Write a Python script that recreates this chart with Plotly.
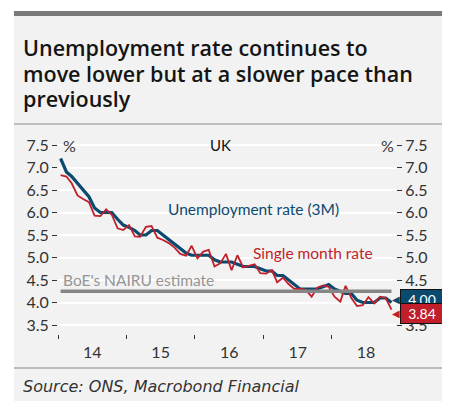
import plotly.graph_objects as go

# ---- data ----
months = [f"{y}-{m:02d}-15" for y in range(2014, 2019) for m in range(1, 13)][:59]

rate_3m = [7.2, 6.9, 6.8, 6.65, 6.5, 6.35, 6.1, 6.0, 6.0, 6.0, 5.85, 5.72, 5.67, 5.6, 5.5,
           5.5, 5.6, 5.6, 5.5, 5.4, 5.3, 5.2, 5.1, 5.05, 5.05, 5.05, 5.05, 4.95, 4.9, 4.9,
           4.9, 4.85, 4.8, 4.8, 4.8, 4.75, 4.7, 4.7, 4.6, 4.6, 4.5, 4.4, 4.3, 4.3, 4.3,
           4.3, 4.35, 4.4, 4.3, 4.25, 4.2, 4.2, 4.05, 4.0, 4.0, 4.0, 4.1, 4.1, 4.0]

rate_single = [6.83, 6.8, 6.65, 6.38, 6.3, 6.23, 5.93, 5.92, 6.07, 5.95, 5.65, 5.61, 5.72, 5.47,
               5.46, 5.68, 5.7, 5.44, 5.39, 5.32, 5.22, 5.08, 5.04, 5.26, 4.98, 5.13, 5.17, 4.8,
               4.87, 5.08, 4.72, 5.05, 4.78, 4.82, 4.85, 4.65, 4.64, 4.72, 4.45, 4.55, 4.41, 4.3,
               4.31, 4.28, 4.13, 4.33, 4.38, 4.35, 4.13, 4.02, 4.37, 4.1, 3.92, 3.94, 4.12, 3.98,
               4.13, 4.1, 3.84]

nairu = [4.25] * len(months)

y_ticks = [3.5, 4.0, 4.5, 5.0, 5.5, 6.0, 6.5, 7.0, 7.5]

title_lines = ["Unemployment rate continues to",
               "move lower but at a slower pace than",
               "previously"]

BLUE = "#0b4a6f"
RED = "#c01f2b"
GRAY = "#868686"
TXT = "#333333"
FONT = "Lato"

W, H = 450, 401
OFF = 8  # page body margin
def px(x):
    return (x - OFF) / W
def py(y):
    return 1 - (y - OFF) / H

fig = go.Figure()
fig.add_trace(go.Scatter(x=months, y=rate_3m, mode="lines",
                         line=dict(color=BLUE, width=3.2), hoverinfo="skip"))
fig.add_trace(go.Scatter(x=months, y=rate_single, mode="lines",
                         line=dict(color=RED, width=1.8), hoverinfo="skip"))
fig.add_trace(go.Scatter(x=months, y=nairu, mode="lines", yaxis="y2",
                         line=dict(color=GRAY, width=3.5), hoverinfo="skip"))

yax = dict(range=[3.3, 7.7], domain=[py(334), py(136)], tickvals=y_ticks,
           tickformat=".1f", ticks="outside", ticklen=5, tickwidth=1.2,
           tickcolor=TXT, showline=False, zeroline=False,
           tickfont=dict(family=FONT, size=16, color=TXT))

fig.update_layout(
    width=W, height=H,
    margin=dict(l=0, r=0, t=0, b=0),
    paper_bgcolor="white", plot_bgcolor="rgba(0,0,0,0)",
    showlegend=False,
    font=dict(family=FONT, color=TXT),
    xaxis=dict(type="date", range=["2014-01-01", "2018-12-09"],
               domain=[px(58), px(396)], ticklabelmode="period",
               tick0="2014-01-01", dtick="M12", tickformat="%y",
               ticks="outside", ticklen=4, tickwidth=1.2, tickcolor=TXT,
               showgrid=False, showline=False, zeroline=False,
               tickfont=dict(family=FONT, size=16, color=TXT)),
    yaxis=dict(**yax, side="left", showgrid=True, gridcolor="white", gridwidth=1.5),
    yaxis2=dict(**yax, side="right", overlaying="y", showgrid=False),
)

shapes = [
    dict(type="rect", xref="paper", yref="paper", x0=px(14), x1=px(446), y0=0, y1=py(11),
         fillcolor="#f2f2f2", line=dict(width=0), layer="below"),
    dict(type="rect", xref="paper", yref="paper", x0=px(14), x1=px(446), y0=py(16), y1=py(11),
         fillcolor="#7a7a7a", line=dict(width=0), layer="below"),
    dict(type="line", xref="paper", yref="paper", x0=px(14), x1=px(446), y0=py(124), y1=py(124),
         line=dict(color="#8a8a8a", width=1), layer="below"),
    dict(type="line", xref="paper", yref="paper", x0=px(14), x1=px(446), y0=py(368), y1=py(368),
         line=dict(color="#8a8a8a", width=1), layer="below"),
]
fig.update_layout(shapes=shapes)

ann = []
for line, yc in zip(title_lines, [47, 73, 99]):
    ann.append(dict(text=line, xref="paper", yref="paper", x=px(21), y=py(yc),
                    xanchor="left", yanchor="middle", showarrow=False,
                    font=dict(family="Open Sans", size=21.5, color="#151515", weight=600)))

ann += [
    dict(text="<i>Source: ONS, Macrobond Financial</i>", xref="paper", yref="paper",
         x=px(21), y=py(386), xanchor="left", yanchor="middle", showarrow=False,
         font=dict(family="DejaVu Sans", size=16, color=TXT)),
    dict(text="%", xref="paper", yref="y", x=px(61), y=7.5, xanchor="left", showarrow=False,
         font=dict(family=FONT, size=16, color=TXT)),
    dict(text="%", xref="paper", yref="y", x=px(396), y=7.5, xanchor="right", showarrow=False,
         font=dict(family=FONT, size=16, color=TXT)),
    dict(text="UK", xref="paper", yref="y", x=px(220), y=7.5, xanchor="center", showarrow=False,
         font=dict(family=FONT, size=15, color="#111111")),
    dict(text="Unemployment rate (3M)", xref="paper", yref="y", x=px(166), y=6.07,
         xanchor="left", showarrow=False, font=dict(family=FONT, size=15.5, color=BLUE)),
    dict(text="Single month rate", xref="paper", yref="y", x=px(251), y=5.09,
         xanchor="left", showarrow=False, font=dict(family=FONT, size=15.5, color=RED)),
    dict(text="BoE's NAIRU estimate", xref="paper", yref="y", x=px(61), y=4.5,
         xanchor="left", showarrow=False, font=dict(family=FONT, size=15.5, color="#959595")),
]

for val, col, yc in [(rate_3m[-1], BLUE, 299), (rate_single[-1], RED, 313)]:
    ann.append(dict(text=f"{val:.2f}", xref="paper", yref="paper", x=px(400), y=py(yc),
                    xanchor="left", yanchor="middle", showarrow=False, bgcolor=col,
                    bordercolor="#111111", borderwidth=1, borderpad=1, width=40,
                    font=dict(family=FONT, size=14, color="white")))
    ann.append(dict(text="◀", xref="paper", yref="paper", x=px(401.5), y=py(yc),
                    xanchor="right", yanchor="middle", showarrow=False,
                    font=dict(family="DejaVu Sans", size=10, color=col)))

fig.update_layout(annotations=ann)
fig.write_html("out.html")
